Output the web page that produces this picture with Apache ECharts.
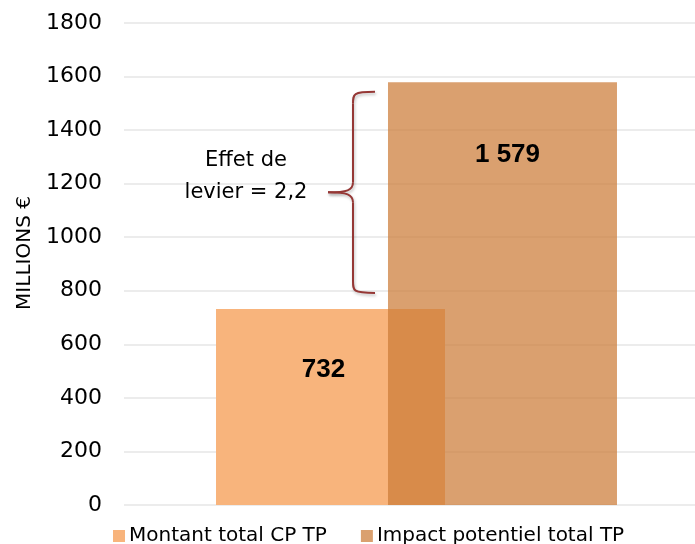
<!DOCTYPE html>
<html>
<head>
<meta charset="utf-8">
<script src="https://cdn.jsdelivr.net/npm/echarts@6/dist/echarts.min.js"></script>
<style>
  html, body { margin: 0; padding: 0; background: #fff; }
  #chart { width: 695px; height: 544px; }
</style>
</head>
<body>
<div id="chart"></div>
<script>
// données du graphique
const categories = ['']
const seriesNames = ['Montant total CP TP', 'Impact potentiel total TP']
const montantCP = [732]
const impactTP = [1579]
const yTicks = [0, 200, 400, 600, 800, 1000, 1200, 1400, 1600, 1800]
const braceRange = [792, 1543] // bornes de l'accolade (valeurs)
const leverText = 'Effet de\nlevier = 2,2'

const font = 'DejaVu Sans'
const chart = echarts.init(document.getElementById('chart'))

const option = {
  animation: false,
  grid: { left: 124, right: -14, top: 23, bottom: 39, outerBoundsMode: 'none' },
  legend: {
    data: seriesNames,
    left: 108,
    bottom: -7,
    itemWidth: 12,
    itemHeight: 12,
    itemGap: 34,
    icon: 'rect',
    textStyle: { fontFamily: font, fontSize: 20, color: '#000', padding: [0, 0, 0, -1] },
  },
  xAxis: {
    type: 'category',
    data: categories,
    axisLine: { show: false },
    axisTick: { show: false },
    axisLabel: { show: false },
  },
  yAxis: {
    type: 'value',
    min: yTicks[0],
    max: yTicks[yTicks.length - 1],
    interval: yTicks[1] - yTicks[0],
    name: 'MILLIONS €',
    nameLocation: 'middle',
    nameGap: 88,
    nameTextStyle: { fontFamily: font, fontSize: 20, color: '#000', padding: [0, 0, 0, 22] },
    axisLine: { show: false },
    axisTick: { show: false },
    axisLabel: { fontFamily: font, fontSize: 22, color: '#000', margin: 22, formatter: (v) => String(v) },
    splitLine: { lineStyle: { color: '#ececec', width: 2 } },
  },
  series: [
    {
      name: seriesNames[0],
      type: 'bar',
      barWidth: 229,
      barGap: '-24.9%',
      itemStyle: { color: '#F8B47C' },
      label: {
        show: true,
        position: 'insideTop',
        distance: 48,
        offset: [-7, 0],
        fontFamily: 'Liberation Sans',
        fontWeight: 'bold',
        fontSize: 26,
        color: '#000',
      },
      data: montantCP,
    },
    {
      name: seriesNames[1],
      type: 'bar',
      barWidth: 229,
      itemStyle: { color: 'rgba(204,124,56,0.72)' },
      label: {
        show: true,
        position: 'insideTop',
        distance: 60,
        offset: [5, 0],
        fontFamily: 'Liberation Sans',
        fontWeight: 'bold',
        fontSize: 26,
        color: '#000',
        formatter: (p) => String(p.value).replace(/(\d)(?=(\d{3})+$)/g, '$1 '),
      },
      data: impactTP,
    },
  ],
}
chart.setOption(option)

// accolade + texte d'annotation
const yTop = chart.convertToPixel({ yAxisIndex: 0 }, braceRange[1])
const yBot = chart.convertToPixel({ yAxisIndex: 0 }, braceRange[0])
const yMid = (yTop + yBot) / 2
const xEnd = 375, xSpine = 353, xTip = 328
const braceStyle = {
  fill: null,
  stroke: '#953735',
  lineWidth: 2,
  shadowColor: 'rgba(0,0,0,0.25)',
  shadowBlur: 3,
  shadowOffsetX: 1,
  shadowOffsetY: 2,
}
const curve = (x1, y1, cx1, cy1, cx2, cy2, x2, y2) => ({
  type: 'bezierCurve',
  shape: { x1, y1, cpx1: cx1, cpy1: cy1, cpx2: cx2, cpy2: cy2, x2, y2 },
  style: braceStyle,
  z: 10,
})
const seg = (x1, y1, x2, y2) => ({
  type: 'line',
  shape: { x1, y1, x2, y2 },
  style: braceStyle,
  z: 10,
})

chart.setOption({
  graphic: [
    curve(xEnd, yTop, xSpine, yTop, xSpine, yTop + 2, xSpine, yTop + 12),
    seg(xSpine, yTop + 12, xSpine, yMid - 10),
    curve(xSpine, yMid - 10, xSpine, yMid - 2, xSpine - 6, yMid, xTip, yMid),
    curve(xTip, yMid, xSpine - 6, yMid, xSpine, yMid + 2, xSpine, yMid + 10),
    seg(xSpine, yMid + 10, xSpine, yBot - 12),
    curve(xSpine, yBot - 12, xSpine, yBot - 2, xSpine, yBot, xEnd, yBot),
    {
      type: 'text',
      x: 246,
      y: yMid - 16,
      style: {
        text: leverText,
        fontFamily: font,
        fontSize: 21,
        lineHeight: 32,
        fill: '#000',
        align: 'center',
        verticalAlign: 'middle',
      },
      z: 10,
    },
  ],
})
</script>
</body>
</html>
